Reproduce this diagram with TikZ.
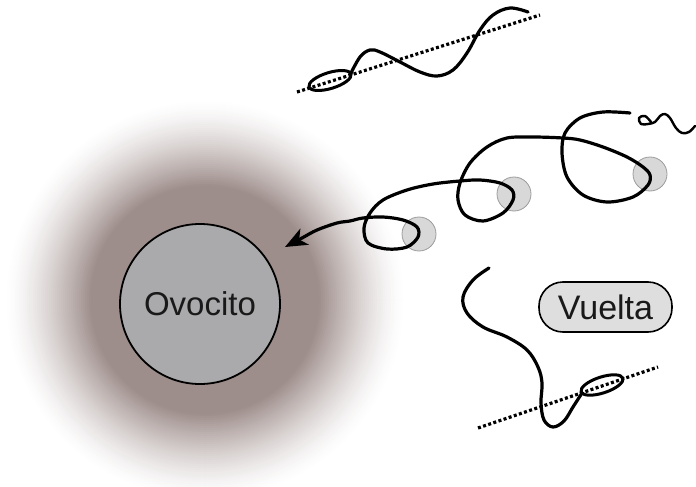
\documentclass[tikz,border=0pt]{standalone}
\usepackage{fontspec}
\setmainfont{Liberation Sans}
\usetikzlibrary{arrows.meta,shapes.geometric}

\definecolor{halo}{RGB}{158,142,139}
\definecolor{cellgray}{RGB}{170,170,172}
\definecolor{headgray}{RGB}{216,216,216}
\definecolor{headedge}{RGB}{155,155,155}
\definecolor{tagfill}{RGB}{222,222,222}

\tikzset{
  cell/.style={circle, draw=black, line width=1.8pt, fill=cellgray,
    minimum size=160pt, inner sep=0pt,
    font=\fontsize{33}{40}\selectfont, text=black!90},
  tag/.style={rectangle, rounded corners=24pt, draw=black, line width=1.6pt,
    fill=tagfill, minimum width=133pt, minimum height=50pt, inner sep=0pt,
    font=\fontsize{34}{40}\selectfont, text=black!90},
  head/.style={circle, draw=headedge, line width=0.8pt, fill=headgray,
    minimum size=34pt, inner sep=0pt},
  flathead/.style={ellipse, draw=black, line width=3pt,
    minimum width=44pt, minimum height=16pt, inner sep=0pt},
  tail/.style={line width=3.2pt, line cap=round, line join=round},
  axis/.style={line width=3.2pt, dash pattern=on 3pt off 2.4pt},
}

\begin{document}
\begin{tikzpicture}[x=1pt, y=-1pt]
\path[use as bounding box] (0,0) rectangle (696,487);

% soft brownish halo around the egg cell: rings from the outside in
\foreach \r in {200,198,...,84}{
  \pgfmathsetmacro{\s}{min(1,(200-\r)/85)}
  \pgfmathsetmacro{\p}{100*\s^1.4}
  \fill[halo!\p!white] (205,300) circle[radius=\r pt];
}
\node[cell] (ovocito) at (200,304) {Ovocito};

% sperm swimming straight along its axis (top)
\draw[axis] (297,92) coordinate (axA) -- (540,15) coordinate (axB);
\node[flathead, rotate=17] (headA) at (330,80.5) {};
\draw[tail] plot[smooth, tension=0.6] coordinates {
  (350,75) (360,57) (370,50) (380,52) (400,62) (420,72) (437,76)
  (453,70) (467,53) (480,30) (493,15) (510,8) (528,12)};

% heads of the spiralling sperm
\node[head] (h1) at (419,234) {};
\node[head] (h2) at (514,194) {};
\node[head] (h3) at (650,174) {};

% looping path towards the egg cell
\draw[tail, -{Stealth[length=22pt, width=18pt, inset=6pt]}]
  plot[smooth, tension=0.55] coordinates {
  (630,113) (603,112) (580,118) (565,133) (562,153) (567,177) (583,195)
  (607,202) (633,197) (648,185) (650,175) (643,167) (627,157) (603,147)
  (580,140) (563,138) (533,137) (507,138) (487,147) (470,163) (460,183)
  (458,200) (465,215) (483,221) (503,213) (513,200) (512,190) (500,183)
  (480,180) (460,181) (433,184) (407,190) (383,200) (370,213) (364,228)
  (368,243) (387,249) (407,247) (418,237) (417,227) (403,220) (383,217)
  (363,218) (350,221) (337,223) (317,230) (302,238) (285,247)};

% thin wavy end of the flagellum
\draw[line width=2.4pt, line cap=round, line join=round]
  plot[smooth, tension=0.6] coordinates {
  (651,122) (645,116) (639,118) (641,124) (648,124) (655,122) (660,116)
  (665,114) (670,118) (676,128) (682,133) (689,132) (695,126)};

% turning sperm (bottom)
\node[tag] (vuelta) at (605.5,307) {Vuelta};
\draw[axis] (478,428) coordinate (axC) -- (658,367) coordinate (axD);
\node[flathead, rotate=18] (headB) at (602,385) {};
\draw[tail] plot[smooth, tension=0.6] coordinates {
  (489,268) (473,280) (463,297) (467,313) (483,327) (507,337) (527,350)
  (538,367) (542,383) (541,403) (544,420) (553,427) (564,421) (573,407)
  (582,393)};
\end{tikzpicture}
\end{document}
